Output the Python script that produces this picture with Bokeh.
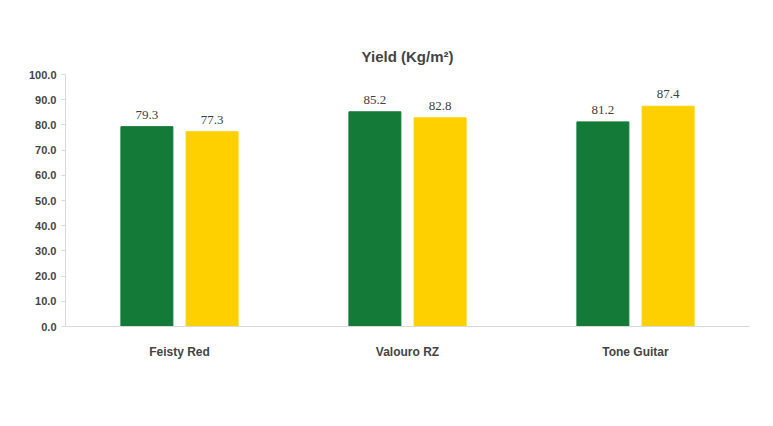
from bokeh.plotting import figure
from bokeh.models import ColumnDataSource, Legend, LegendItem, FixedTicker, Range1d, LabelSet
from bokeh.embed import file_html
from bokeh.resources import INLINE

categories = ["Feisty Red", "Valouro RZ", "Tone Guitar"]
biocontrol = [79.3, 85.2, 81.2]
chemical = [77.3, 82.8, 87.4]
yticks = [0, 10, 20, 30, 40, 50, 60, 70, 80, 90, 100]

FONT = "Liberation Sans"
xs = [i + 0.5 for i in range(len(categories))]

p = figure(frame_width=684, frame_height=252, output_backend="svg", toolbar_location=None,
           x_range=Range1d(0, 3), y_range=Range1d(0, 100),
           min_border_left=65, min_border_right=8, min_border_top=74, min_border_bottom=84)
p.title.text = "Yield (Kg/m²)"
p.title.align = "center"
p.title.text_font = FONT
p.title.text_font_size = "15px"
p.title.text_font_style = "bold"
p.title.offset = 0
p.title.standoff = 20
p.outline_line_color = None
p.grid.visible = False

s1 = ColumnDataSource(dict(x=[x - 0.143 for x in xs], y=biocontrol, t=[f"{v:.1f}" for v in biocontrol]))
s2 = ColumnDataSource(dict(x=[x + 0.143 for x in xs], y=chemical, t=[f"{v:.1f}" for v in chemical]))
r1 = p.vbar(x="x", top="y", width=0.228, source=s1, color="#137A38")
r2 = p.vbar(x="x", top="y", width=0.228, source=s2, color="#FFD000")
for s in (s1, s2):
    p.add_layout(LabelSet(x="x", y="y", text="t", source=s, y_offset=8, text_align="center",
                          text_font=FONT, text_font_size="13px", text_color="#404040"))

p.xaxis.ticker = FixedTicker(ticks=xs)
p.xaxis.major_label_overrides = {x: c for x, c in zip(xs, categories)}
p.xaxis.major_tick_line_color = None
p.xaxis.minor_tick_line_color = None
p.xaxis.axis_line_color = "#D9D9D9"
p.xaxis.major_label_text_font = FONT
p.xaxis.major_label_text_font_size = "12px"
p.xaxis.major_label_text_font_style = "bold"
p.xaxis.major_label_standoff = 12

p.yaxis.ticker = FixedTicker(ticks=yticks)
p.yaxis.major_label_overrides = {t: f"{t:.1f}" for t in yticks}
p.yaxis.axis_line_color = "#D9D9D9"
p.yaxis.major_tick_line_color = "#D9D9D9"
p.yaxis.major_tick_out = 4
p.yaxis.major_tick_in = 0
p.yaxis.minor_tick_line_color = None
p.yaxis.major_label_text_font = FONT
p.yaxis.major_label_text_font_size = "11px"
p.yaxis.major_label_text_font_style = "bold"

legend = Legend(items=[LegendItem(label="Biocontrol GH", renderers=[r1]),
                       LegendItem(label="Chemical control GH", renderers=[r2])],
                orientation="horizontal", location=(200, -62), border_line_color=None,
                background_fill_alpha=0,
                label_text_font=FONT, label_text_font_size="12px", label_text_font_style="bold",
                glyph_width=9, glyph_height=9, spacing=20, margin=0, padding=0)
p.add_layout(legend, "center")

open("out.html", "w").write(file_html(p, INLINE))
